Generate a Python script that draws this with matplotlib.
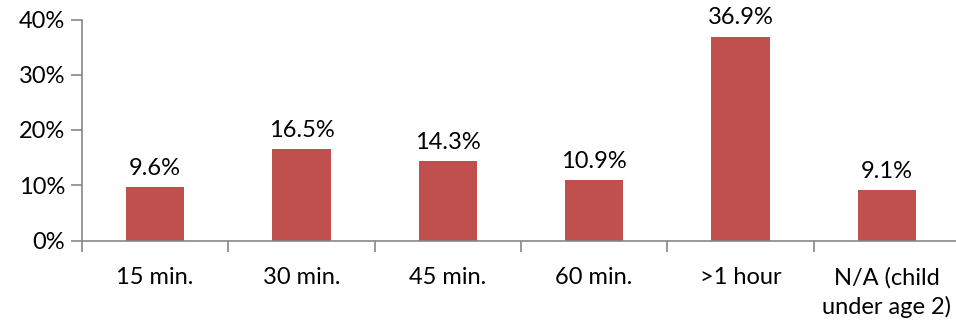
import matplotlib.pyplot as plt
import numpy as np

categories = ["15 min.", "30 min.", "45 min.", "60 min.", ">1 hour", "N/A (child\nunder age 2)"]
shares = [9.6, 16.5, 14.3, 10.9, 36.9, 9.1]
yticks = [0, 10, 20, 30, 40]

plt.rcParams['font.family'] = ['Lato', 'DejaVu Sans']
FS = 17

W, H = 956, 324
fig = plt.figure(figsize=(W / 100, H / 100), dpi=100)
ax = fig.add_axes([82 / W, 1 - 240.5 / H, (960 - 82) / W, 221 / H])

x = np.arange(len(categories))
ax.bar(x, shares, width=0.4, color="#C0504D", zorder=2)
for xi, v in zip(x, shares):
    ax.text(xi, v + 1.5, f"{v:.1f}%", ha="center", va="bottom", fontsize=FS)

ax.set_xlim(-0.5, len(categories) - 0.5)
ax.set_ylim(0, 40)
ax.set_yticks(yticks)
ax.set_yticklabels([f"{t}%" for t in yticks], fontsize=FS)

# category labels centred, tick marks between categories
ax.set_xticks(x)
ax.set_xticklabels(categories, fontsize=FS, linespacing=1.4, va="top")
ax.tick_params(axis="x", length=0, pad=19)
ax.set_xticks(np.arange(len(categories) + 1) - 0.5, minor=True)
ax.tick_params(axis="x", which="minor", length=8, color="#868686", width=1.2)
ax.tick_params(axis="y", length=8, color="#868686", width=1.2, pad=4)

for s in ["top", "right"]:
    ax.spines[s].set_visible(False)
for s in ["left", "bottom"]:
    ax.spines[s].set_color("#868686")
    ax.spines[s].set_linewidth(1.2)

fig.savefig("out.png", dpi=100)
